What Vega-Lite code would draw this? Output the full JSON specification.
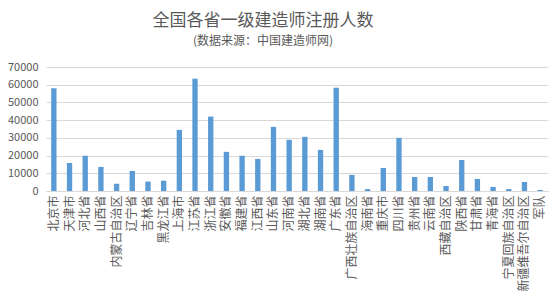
{
  "$schema": "https://vega.github.io/schema/vega-lite/v6.json",
  "width": 502,
  "height": 124,
  "autosize": {"type": "none"},
  "padding": {"left": 46, "top": 67, "right": 7, "bottom": 112},
  "background": "white",
  "title": {
    "text": "全国各省一级建造师注册人数",
    "subtitle": "(数据来源：中国建造师网)",
    "anchor": "middle",
    "frame": "group",
    "dx": -34,
    "offset": 13,
    "font": "Noto Sans CJK SC",
    "fontSize": 17,
    "fontWeight": "normal",
    "color": "#595959",
    "subtitleFont": "Noto Sans CJK SC",
    "subtitleFontSize": 12,
    "subtitleColor": "#595959",
    "subtitlePadding": 6
  },
  "data": {
    "values": [
      {"province": "北京市", "count": 58000},
      {"province": "天津市", "count": 15800},
      {"province": "河北省", "count": 19900},
      {"province": "山西省", "count": 13600},
      {"province": "内蒙古自治区", "count": 4100},
      {"province": "辽宁省", "count": 11300},
      {"province": "吉林省", "count": 5300},
      {"province": "黑龙江省", "count": 5800},
      {"province": "上海市", "count": 34500},
      {"province": "江苏省", "count": 63400},
      {"province": "浙江省", "count": 42000},
      {"province": "安徽省", "count": 22100},
      {"province": "福建省", "count": 19900},
      {"province": "江西省", "count": 18100},
      {"province": "山东省", "count": 36200},
      {"province": "河南省", "count": 28900},
      {"province": "湖北省", "count": 30600},
      {"province": "湖南省", "count": 23200},
      {"province": "广东省", "count": 58300},
      {"province": "广西壮族自治区", "count": 9100},
      {"province": "海南省", "count": 1100},
      {"province": "重庆市", "count": 13000},
      {"province": "四川省", "count": 30000},
      {"province": "贵州省", "count": 7900},
      {"province": "云南省", "count": 7900},
      {"province": "西藏自治区", "count": 2800},
      {"province": "陕西省", "count": 17500},
      {"province": "甘肃省", "count": 6800},
      {"province": "青海省", "count": 2300},
      {"province": "宁夏回族自治区", "count": 1100},
      {"province": "新疆维吾尔自治区", "count": 5100},
      {"province": "军队", "count": 600}
    ]
  },
  "mark": {"type": "bar", "color": "#5B9BD5"},
  "encoding": {
    "x": {
      "field": "province",
      "type": "nominal",
      "sort": null,
      "scale": {"paddingInner": 0.66, "paddingOuter": 0.33},
      "axis": {
        "title": null,
        "labelAngle": -90,
        "labelFont": "Noto Sans CJK SC",
        "labelFontSize": 12,
        "labelColor": "#595959",
        "labelPadding": 4,
        "ticks": false,
        "domainColor": "#D9D9D9",
        "domainWidth": 1
      }
    },
    "y": {
      "field": "count",
      "type": "quantitative",
      "scale": {"domain": [0, 70000], "nice": false},
      "axis": {
        "title": null,
        "values": [0, 10000, 20000, 30000, 40000, 50000, 60000, 70000],
        "format": "d",
        "labelFont": "Noto Sans CJK SC",
        "labelFontSize": 11,
        "labelColor": "#595959",
        "labelPadding": 8,
        "ticks": false,
        "domain": false,
        "gridColor": "#D9D9D9",
        "gridWidth": 1
      }
    }
  },
  "config": {"view": {"stroke": null}}
}
